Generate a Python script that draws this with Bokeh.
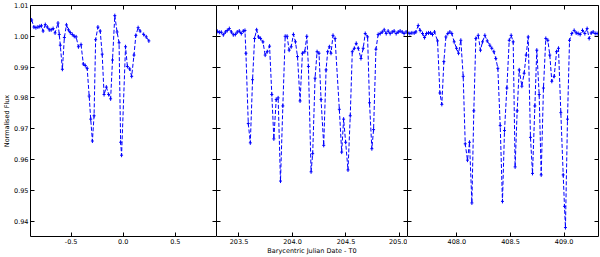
from bokeh.plotting import figure
from bokeh.layouts import row
from bokeh.models import Range1d, FixedTicker, LinearAxis
from bokeh.embed import file_html
from bokeh.resources import INLINE

# ---------------- data ----------------
t_left = [-0.879, -0.857, -0.838, -0.819, -0.801, -0.785, -0.769, -0.748, -0.729, -0.710,
          -0.692, -0.673, -0.654, -0.626, -0.614, -0.604, -0.584, -0.565, -0.545, -0.526,
          -0.508, -0.489, -0.470, -0.452, -0.430, -0.405, -0.383, -0.364, -0.346, -0.327,
          -0.312, -0.296, -0.280, -0.265, -0.243, -0.221, -0.202, -0.184, -0.162, -0.140,
          -0.121, -0.103, -0.081, -0.059, -0.040, -0.025, -0.016, 0.022, 0.040, 0.062,
          0.081, 0.103, 0.121, 0.143, 0.162, 0.196, 0.221, 0.246]
f_left = [1.0053, 1.0030, 1.0028, 1.0030, 1.0032, 1.0034, 1.0017, 1.0038, 1.0030, 1.0021,
          1.0021, 1.0025, 1.0011, 1.0043, 1.0006, 0.9971, 0.9893, 0.9996, 1.0037, 1.0021,
          1.0012, 1.0006, 1.0000, 0.9998, 0.9966, 0.9973, 0.9910, 0.9905, 0.9896, 0.9806,
          0.9731, 0.9660, 0.9742, 0.9989, 1.0030, 1.0017, 0.9942, 0.9811, 0.9835, 0.9811,
          0.9797, 0.9923, 1.0067, 1.0014, 0.9979, 0.9656, 0.9614, 0.9966, 0.9902, 0.9894,
          0.9870, 0.9939, 1.0003, 1.0028, 1.0017, 1.0006, 0.9998, 0.9985]

t_mid = [203.298, 203.317, 203.335, 203.354, 203.373, 203.391, 203.410, 203.429, 203.447, 203.466,
         203.484, 203.503, 203.522, 203.540, 203.556, 203.565, 203.587, 203.606, 203.627, 203.646,
         203.665, 203.683, 203.702, 203.724, 203.745, 203.764, 203.786, 203.807, 203.826, 203.848,
         203.866, 203.888, 203.910, 203.932, 203.950, 203.969, 203.988, 204.009, 204.028, 204.047,
         204.071, 204.093, 204.115, 204.134, 204.149, 204.174, 204.189, 204.211, 204.230, 204.248,
         204.267, 204.292, 204.314, 204.329, 204.345, 204.360, 204.379, 204.398, 204.438, 204.460,
         204.478, 204.497, 204.519, 204.540, 204.559, 204.578, 204.596, 204.615, 204.640, 204.661,
         204.680, 204.702, 204.720, 204.742, 204.758, 204.780, 204.801, 204.820, 204.839, 204.857,
         204.876, 204.894, 204.913, 204.932, 204.950, 204.969, 204.988, 205.006, 205.025, 205.043,
         205.062]
f_mid = [1.0016, 1.0013, 1.0013, 1.0005, 1.0014, 1.0019, 1.0025, 1.0014, 1.0005, 1.0006,
         1.0014, 1.0017, 1.0009, 1.0017, 1.0019, 0.9945, 0.9717, 0.9654, 0.9859, 0.9993,
         1.0021, 0.9998, 0.9993, 0.9982, 0.9939, 0.9950, 0.9968, 0.9811, 0.9667, 0.9795,
         0.9800, 0.9530, 0.9774, 1.0000, 1.0000, 0.9955, 0.9966, 1.0006, 0.9982, 0.9934,
         0.9790, 0.9945, 0.9950, 1.0000, 0.9902, 0.9560, 0.9619, 0.9864, 0.9950, 0.9945,
         0.9795, 0.9646, 0.9891, 0.9950, 0.9966, 0.9945, 1.0003, 0.9993, 0.9763, 0.9624,
         0.9731, 0.9656, 0.9566, 0.9742, 0.9950, 0.9961, 0.9977, 0.9961, 0.9928, 0.9961,
         1.0009, 0.9998, 0.9784, 0.9635, 0.9697, 0.9958, 1.0006, 1.0009, 1.0014, 1.0021,
         1.0009, 1.0017, 1.0009, 1.0014, 1.0017, 1.0009, 1.0014, 1.0017, 1.0014, 1.0009,
         1.0014]

t_right = [407.543, 407.562, 407.581, 407.602, 407.618, 407.640, 407.658, 407.680, 407.699, 407.717,
           407.736, 407.755, 407.773, 407.792, 407.820, 407.842, 407.860, 407.879, 407.898, 407.916,
           407.935, 407.953, 407.975, 407.997, 408.016, 408.037, 408.059, 408.078, 408.099, 408.118,
           408.140, 408.158, 408.177, 408.199, 408.220, 408.239, 408.261, 408.283, 408.307, 408.326,
           408.345, 408.363, 408.382, 408.404, 408.425, 408.444, 408.466, 408.488, 408.506, 408.525,
           408.543, 408.562, 408.581, 408.606, 408.627, 408.646, 408.665, 408.686, 408.705, 408.727,
           408.745, 408.767, 408.786, 408.807, 408.829, 408.848, 408.866, 408.885, 408.907, 408.929,
           408.947, 408.969, 408.991, 409.003, 409.012, 409.031, 409.050, 409.071, 409.093, 409.112,
           409.130, 409.149, 409.171, 409.193, 409.214, 409.233, 409.252, 409.270, 409.289, 409.307]
f_right = [1.0011, 1.0009, 1.0011, 1.0011, 1.0014, 1.0035, 1.0019, 1.0009, 0.9996, 1.0009,
           1.0011, 1.0011, 1.0006, 1.0014, 0.9985, 0.9816, 0.9779, 0.9918, 0.9998, 1.0009,
           1.0014, 1.0009, 0.9982, 0.9961, 0.9945, 0.9987, 0.9870, 0.9651, 0.9598, 0.9656,
           0.9459, 0.9758, 0.9993, 1.0003, 0.9955, 0.9982, 1.0003, 0.9985, 0.9971, 0.9961,
           0.9950, 0.9928, 0.9896, 0.9710, 0.9464, 0.9694, 0.9832, 0.9987, 1.0003, 0.9982,
           0.9576, 0.9758, 0.9891, 0.9838, 0.9880, 0.9939, 0.9998, 0.9672, 0.9555, 0.9774,
           0.9955, 0.9811, 0.9550, 0.9832, 0.9993, 0.9987, 0.9939, 0.9854, 0.9870, 0.9950,
           0.9961, 0.9752, 0.9550, 0.9448, 0.9379, 0.9731, 0.9987, 1.0009, 1.0019, 1.0011,
           1.0009, 1.0006, 1.0019, 1.0009, 1.0025, 0.9993, 1.0011, 1.0014, 1.0009, 1.0009]

y_ticks = [0.94, 0.95, 0.96, 0.97, 0.98, 0.99, 1.00, 1.01]
y_tick_labels = ["0.94", "0.95", "0.96", "0.97", "0.98", "0.99", "1.00", "1.01"]
x_ticks_left = [-0.5, 0.0, 0.5]
x_labels_left = ["-0.5", "0.0", "0.5"]
x_ticks_mid = [203.5, 204.0, 204.5, 205.0]
x_labels_mid = ["203.5", "204.0", "204.5", "205.0"]
x_ticks_right = [408.0, 408.5, 409.0]
x_labels_right = ["408.0", "408.5", "409.0"]

x_label = "Barycentric Julian Date - T0"
y_label = "Normalised Flux"

# ---------------- style ----------------
FONT = "DejaVu Sans"
FS = "6.5px"
BLUE = "#0000ff"
H = 257
FRAME_W = 191
LEFT_B = 25
BOTTOM_B = 18
TOP_B = 5

y_range = Range1d(0.935, 1.01)


def style_axis(ax, ticks, labels=None, line=True):
    ax.ticker = FixedTicker(ticks=ticks)
    ax.major_tick_in = 4
    ax.major_tick_out = 0
    ax.minor_tick_in = 0
    ax.minor_tick_out = 0
    ax.major_tick_line_color = "black"
    ax.axis_line_color = "black" if line else None
    ax.axis_line_width = 1
    ax.major_label_text_font = FONT
    if labels is None:
        ax.major_label_text_color = None
        ax.major_label_text_font_size = "0px"
        ax.major_label_standoff = 0
    else:
        ax.major_label_text_color = "black"
        ax.major_label_text_font_size = FS
        ax.major_label_standoff = 2
        ax.major_label_overrides = {t: l for t, l in zip(ticks, labels)}
    ax.axis_label_text_font = FONT
    ax.axis_label_text_font_size = FS
    ax.axis_label_text_font_style = "normal"
    ax.axis_label_text_color = "black"
    ax.axis_label_standoff = 0


def make_panel(t, f, xr, xticks, xlabels, width, left_b, right_b,
               show_y=False, xlab=None, right_line=False):
    p = figure(width=width, height=H, x_range=Range1d(*xr), y_range=y_range,
               output_backend="svg", toolbar_location=None,
               min_border_left=left_b, min_border_right=right_b,
               min_border_top=TOP_B, min_border_bottom=BOTTOM_B,
               background_fill_color="white", border_fill_color="white")
    p.xgrid.visible = False
    p.ygrid.visible = False
    p.outline_line_color = None

    style_axis(p.xaxis[0], xticks, xlabels)
    if xlab:
        p.xaxis[0].axis_label = xlab
    style_axis(p.yaxis[0], y_ticks, y_tick_labels if show_y else None)
    if show_y:
        p.yaxis[0].axis_label = y_label

    top = LinearAxis()
    style_axis(top, xticks, None)
    p.add_layout(top, "above")
    right = LinearAxis()
    style_axis(right, y_ticks, None, line=right_line)
    p.add_layout(right, "right")

    p.line(t, f, line_color=BLUE, line_width=1, line_dash="4 2")
    p.scatter(t, f, marker="dash", size=4, angle=1.5708, line_color=BLUE, line_width=1)
    p.scatter(t, f, marker="dash", size=3, line_color=BLUE, line_width=1)
    return p


p1 = make_panel(t_left, f_left, (-0.89, 0.895), x_ticks_left, x_labels_left,
                LEFT_B + FRAME_W, LEFT_B, 0, show_y=True)
p2 = make_panel(t_mid, f_mid, (203.29, 205.075), x_ticks_mid, x_labels_mid,
                FRAME_W, 0, 0, xlab=x_label)
p3 = make_panel(t_right, f_right, (407.54, 409.32), x_ticks_right, x_labels_right,
                FRAME_W + 2, 0, 2, right_line=True)

layout = row(p1, p2, p3, spacing=0)

with open("out.html", "w") as fh:
    fh.write(file_html(layout, INLINE))
